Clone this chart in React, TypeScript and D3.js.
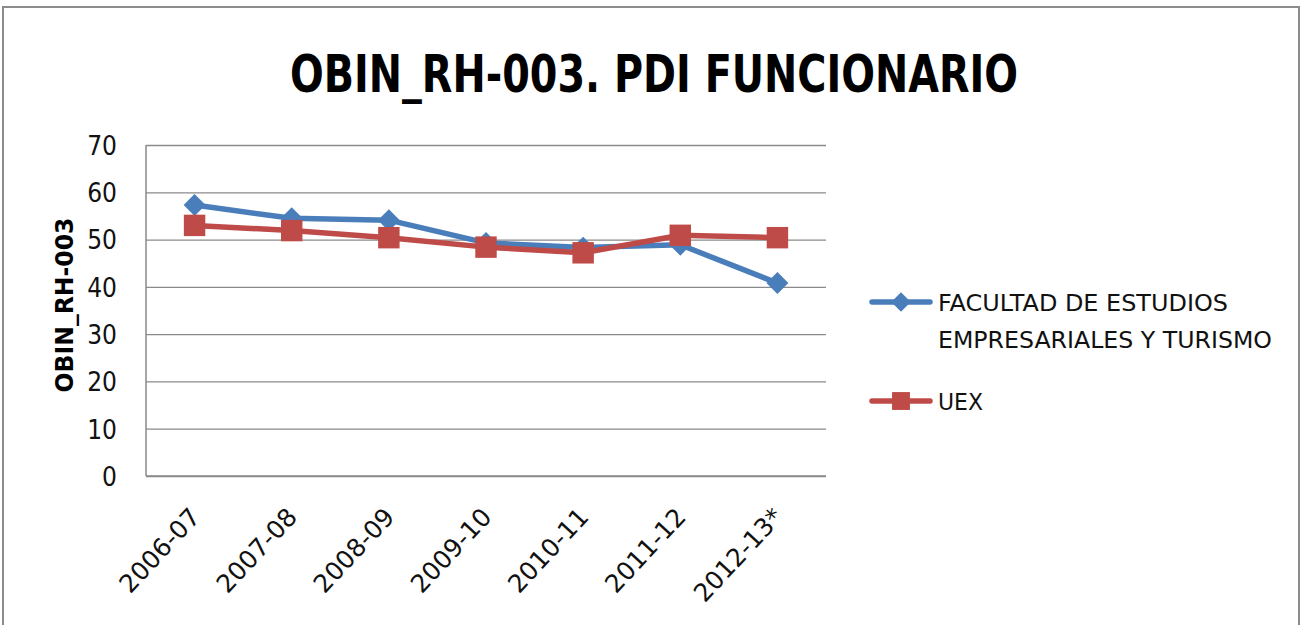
import React, { useRef, useEffect } from 'react'
import * as d3 from 'd3'

const categories = ['2006-07', '2007-08', '2008-09', '2009-10', '2010-11', '2011-12', '2012-13*']
const facultadValues = [57.3, 54.5, 54.1, 49.3, 48.3, 48.9, 40.8]
const uexValues = [53.0, 51.9, 50.4, 48.4, 47.2, 50.9, 50.4]
const yTicks = [0, 10, 20, 30, 40, 50, 60, 70]
const facultadLabel = ['FACULTAD DE ESTUDIOS', 'EMPRESARIALES Y TURISMO']
const uexLabel = ['UEX']

const CONDENSED = "'DejaVu Sans Condensed', 'DejaVu Sans', sans-serif"
const SANS = "'DejaVu Sans', sans-serif"

export default function App() {
    const visEl = useRef<HTMLDivElement>(null)
    const width = 1304
    const height = 625

    useEffect(() => {
        document.body.style.margin = '0'
        const root = d3.select(visEl.current)
        root.selectAll('*').remove()
        const svg = root.append('svg')
            .attr('width', width)
            .attr('height', height)
            .style('display', 'block')
            .style('background', '#fff')

        // outer frame
        svg.append('rect')
            .attr('x', 3).attr('y', 7)
            .attr('width', 1296).attr('height', 640)
            .attr('fill', 'none')
            .attr('stroke', '#8c8c8c')
            .attr('stroke-width', 2)

        svg.append('text')
            .attr('x', 654)
            .attr('y', 92)
            .attr('text-anchor', 'middle')
            .attr('font-family', CONDENSED)
            .attr('font-weight', 'bold')
            .attr('font-size', 51)
            .attr('textLength', 728)
            .attr('lengthAdjust', 'spacingAndGlyphs')
            .text('OBIN_RH-003. PDI FUNCIONARIO')

        const margin = { top: 145, left: 146 }
        const innerWidth = 680
        const innerHeight = 331

        const g = svg.append('g')
            .attr('transform', `translate(${margin.left},${margin.top})`)

        const xScale = d3.scaleBand().domain(categories).range([0, innerWidth])
        const yScale = d3.scaleLinear().domain([0, 70]).range([innerHeight, 0])

        const yAxis = d3.axisLeft(yScale).tickValues(yTicks).tickSize(-innerWidth).tickPadding(29)
        const yAxisG = g.append('g').call(yAxis)
        yAxisG.select('.domain').remove()
        yAxisG.selectAll('.tick line').attr('stroke', '#8a8a8a').attr('stroke-width', 1.3)
        yAxisG.selectAll('.tick text')
            .attr('font-family', CONDENSED)
            .attr('font-size', 26)
            .attr('fill', '#111')
            .attr('dy', '0.36em')

        // axis lines
        g.append('line').attr('x1', 0).attr('x2', 0).attr('y1', 0).attr('y2', innerHeight)
            .attr('stroke', '#8a8a8a').attr('stroke-width', 1.5)
        g.append('line').attr('x1', 0).attr('x2', innerWidth).attr('y1', innerHeight).attr('y2', innerHeight)
            .attr('stroke', '#8a8a8a').attr('stroke-width', 1.5)

        const xAxisG = g.append('g')
        xAxisG.selectAll('text')
            .data(categories)
            .join('text')
            .attr('transform', d => `translate(${(xScale(d) ?? 0) + xScale.bandwidth() / 2 + 7},${innerHeight + 42}) rotate(-47)`)
            .attr('text-anchor', 'end')
            .attr('font-family', SANS)
            .attr('font-size', 25)
            .attr('fill', '#111')
            .text(d => d)

        g.append('text')
            .attr('transform', `translate(-73,${160}) rotate(-90)`)
            .attr('text-anchor', 'middle')
            .attr('font-family', CONDENSED)
            .attr('font-weight', 'bold')
            .attr('font-size', 24)
            .attr('textLength', 175)
            .attr('lengthAdjust', 'spacingAndGlyphs')
            .text('OBIN_RH-003')

        const xPos = (i: number) => (xScale(categories[i]) ?? 0) + xScale.bandwidth() / 2
        const lineGenerator = d3.line<number>()
            .x((d, i) => xPos(i))
            .y(d => yScale(d))

        const series = [
            { values: facultadValues, color: '#4a7ebb', size: 240, rot: 45 },
            { values: uexValues, color: '#be4b48', size: 460, rot: 0 },
        ]

        series.forEach(s => {
            g.append('path')
                .attr('d', lineGenerator(s.values))
                .attr('fill', 'none')
                .attr('stroke', s.color)
                .attr('stroke-width', 5.5)
                .attr('stroke-linejoin', 'round')
            const sym = d3.symbol().type(d3.symbolSquare).size(s.size)
            g.selectAll(null)
                .data(s.values)
                .join('path')
                .attr('transform', (d, i) => `translate(${xPos(i)},${yScale(d)}) rotate(${s.rot})`)
                .attr('d', sym())
                .attr('fill', s.color)
        })

        // legend
        const legend = svg.append('g')
        const legendRows = [
            { y: 302, color: '#4a7ebb', size: 190, rot: 45, lines: facultadLabel, widths: [290, 334] },
            { y: 401, color: '#be4b48', size: 320, rot: 0, lines: uexLabel, widths: [45] },
        ]
        legendRows.forEach(r => {
            legend.append('line')
                .attr('x1', 872).attr('x2', 930)
                .attr('y1', r.y).attr('y2', r.y)
                .attr('stroke', r.color)
                .attr('stroke-width', 5.5)
                .attr('stroke-linecap', 'round')
            legend.append('path')
                .attr('transform', `translate(901,${r.y}) rotate(${r.rot})`)
                .attr('d', d3.symbol().type(d3.symbolSquare).size(r.size)())
                .attr('fill', r.color)
            r.lines.forEach((t, i) => {
                legend.append('text')
                    .attr('x', 938)
                    .attr('y', r.y + 9 + i * 37)
                    .attr('font-family', SANS)
                    .attr('font-size', 23)
                    .attr('fill', '#111')
                    .attr('textLength', r.widths[i])
                    .attr('lengthAdjust', 'spacingAndGlyphs')
                    .text(t)
            })
        })
    }, [])

    return (
        <div>
            <div ref={visEl}></div>
        </div>
    )
}
